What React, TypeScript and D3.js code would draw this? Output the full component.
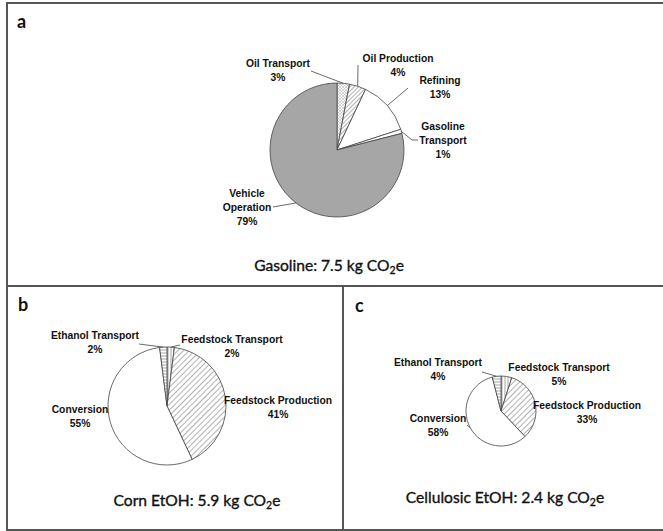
import { useEffect, useRef } from 'react';
import * as d3 from 'd3';

// panel a - gasoline
const gasLabels = ['Oil Transport', 'Oil Production', 'Refining', 'Gasoline Transport', 'Vehicle Operation'];
const gasValues = [3, 4, 13, 1, 79];
const gasFills = ['url(#dots)', 'url(#hatchDense)', '#ffffff', '#ffffff', '#a6a6a6'];

// panel b - corn ethanol
const cornLabels = ['Feedstock Transport', 'Feedstock Production', 'Conversion', 'Ethanol Transport'];
const cornValues = [2, 41, 55, 2];

// panel c - cellulosic ethanol
const cellLabels = ['Feedstock Transport', 'Feedstock Production', 'Conversion', 'Ethanol Transport'];
const cellValues = [5, 33, 58, 4];

const ethFills = ['url(#vlines)', 'url(#hatch)', '#ffffff', 'url(#hlines)'];

const titles = [
  { pre: 'Gasoline: 7.5 kg CO', post: 'e' },
  { pre: 'Corn EtOH: 5.9 kg CO', post: 'e' },
  { pre: 'Cellulosic EtOH: 2.4 kg CO', post: 'e' },
];

type LabelPos = { x: number; y: number; lines: string[]; leader?: [number, number][] };

export default function App() {
  const svgRef = useRef<SVGSVGElement | null>(null);

  useEffect(() => {
    if (!svgRef.current) return;
    const svg = d3.select(svgRef.current);
    svg.selectAll('*').remove();

    const defs = svg.append('defs');
    const mkPattern = (id: string, size: number, rot: number, draw: (p: any) => void) => {
      const p = defs
        .append('pattern')
        .attr('id', id)
        .attr('patternUnits', 'userSpaceOnUse')
        .attr('width', size)
        .attr('height', size)
        .attr('patternTransform', `rotate(${rot})`);
      p.append('rect').attr('width', size).attr('height', size).attr('fill', '#fff');
      draw(p);
    };
    mkPattern('hatch', 4, 45, (p) =>
      p.append('line').attr('x1', 0).attr('y1', 0).attr('x2', 0).attr('y2', 4).attr('stroke', '#555').attr('stroke-width', 0.9)
    );
    mkPattern('hatchDense', 3, 45, (p) =>
      p.append('line').attr('x1', 0).attr('y1', 0).attr('x2', 0).attr('y2', 3).attr('stroke', '#555').attr('stroke-width', 0.9)
    );
    mkPattern('dots', 3, 0, (p) => {
      p.append('line').attr('x1', 0).attr('y1', 0).attr('x2', 3).attr('y2', 3).attr('stroke', '#aaa').attr('stroke-width', 0.5);
      p.append('line').attr('x1', 3).attr('y1', 0).attr('x2', 0).attr('y2', 3).attr('stroke', '#aaa').attr('stroke-width', 0.5);
    });
    mkPattern('vlines', 3, 0, (p) =>
      p.append('line').attr('x1', 1).attr('y1', 0).attr('x2', 1).attr('y2', 3).attr('stroke', '#666').attr('stroke-width', 0.6)
    );
    mkPattern('hlines', 3, 0, (p) =>
      p.append('line').attr('x1', 0).attr('y1', 1).attr('x2', 3).attr('y2', 1).attr('stroke', '#666').attr('stroke-width', 0.6)
    );

    const labelFont = '"Liberation Sans", Arial, sans-serif';
    const titleFont = 'Lato, "Open Sans", sans-serif';

    // frame
    svg.append('rect').attr('x', 7).attr('y', 3).attr('width', 660).attr('height', 527)
      .attr('fill', 'none').attr('stroke', '#555').attr('stroke-width', 2);
    svg.append('line').attr('x1', 7).attr('x2', 663).attr('y1', 286).attr('y2', 286)
      .attr('stroke', '#555').attr('stroke-width', 2);
    svg.append('line').attr('x1', 343).attr('x2', 343).attr('y1', 286).attr('y2', 530)
      .attr('stroke', '#555').attr('stroke-width', 2);

    const drawPie = (
      cx: number, cy: number, r: number,
      labels: string[], values: number[], fills: string[],
      pos: LabelPos[]
    ) => {
      const g = svg.append('g').attr('transform', `translate(${cx},${cy})`);
      const pie = d3.pie<number>().sort(null).value((d) => d);
      const arcs = pie(values);
      const arc = d3.arc<d3.PieArcDatum<number>>().innerRadius(0).outerRadius(r);
      const edge = d3.arc<d3.PieArcDatum<number>>().innerRadius(r).outerRadius(r);
      g.selectAll('path.slice')
        .data(arcs)
        .enter()
        .append('path')
        .attr('class', 'slice')
        .attr('d', arc)
        .attr('fill', (_, i) => fills[i])
        .attr('stroke', '#444')
        .attr('stroke-width', 0.8)
        .append('title')
        .text((_, i) => labels[i]);

      arcs.forEach((a, i) => {
        const p = pos[i];
        if (p.leader) {
          const [ex, ey] = edge.centroid(a);
          const pts: [number, number][] = [[ex + cx, ey + cy], ...p.leader];
          svg.append('path')
            .attr('d', d3.line()(pts))
            .attr('fill', 'none')
            .attr('stroke', '#444')
            .attr('stroke-width', 0.8);
        }
        const lines = [...p.lines, `${values[i]}%`];
        const t = svg.append('text')
          .attr('x', p.x)
          .attr('y', p.y)
          .attr('text-anchor', 'middle')
          .style('font-family', labelFont)
          .style('font-weight', 'bold')
          .style('font-size', '10.3px')
          .attr('fill', '#111');
        lines.forEach((l, k) => {
          t.append('tspan').attr('x', p.x).attr('dy', k === 0 ? 0 : 14).text(l);
        });
      });
    };

    drawPie(337, 150, 67, gasLabels, gasValues, gasFills, [
      { x: 278, y: 67, lines: ['Oil Transport'], leader: [[311, 71]] },
      { x: 398, y: 62, lines: ['Oil Production'], leader: [[358, 65]] },
      { x: 440, y: 84, lines: ['Refining'], leader: [[408, 88]] },
      { x: 443, y: 130, lines: ['Gasoline', 'Transport'], leader: [[412, 140], [418, 140]] },
      { x: 247, y: 197, lines: ['Vehicle', 'Operation'], leader: [[273, 207]] },
    ]);

    drawPie(167, 406, 59, cornLabels, cornValues, ethFills, [
      { x: 232, y: 343, lines: ['Feedstock Transport'], leader: [[180, 345]] },
      { x: 278, y: 404, lines: ['Feedstock Production'] },
      { x: 80, y: 413, lines: ['Conversion'] },
      { x: 95, y: 339, lines: ['Ethanol Transport'], leader: [[139, 344]] },
    ]);

    drawPie(501, 411, 35, cellLabels, cellValues, ethFills, [
      { x: 559, y: 371, lines: ['Feedstock Transport'] },
      { x: 587, y: 409, lines: ['Feedstock Production'] },
      { x: 438, y: 422, lines: ['Conversion'], leader: [[467, 425]] },
      { x: 438, y: 366, lines: ['Ethanol Transport'], leader: [[482, 372]] },
    ]);

    // panel letters
    [['a', 17, 28], ['b', 18, 311], ['c', 355, 312]].forEach(([s, x, y]) => {
      svg.append('text').attr('x', x).attr('y', y).text(s as string)
        .style('font-family', titleFont).style('font-weight', 'bold').style('font-size', '18px').attr('fill', '#111');
    });

    // titles
    const titlePos = [[329, 271], [197, 506], [505, 503]];
    titles.forEach((t, i) => {
      const txt = svg.append('text')
        .attr('x', titlePos[i][0])
        .attr('y', titlePos[i][1])
        .attr('text-anchor', 'middle')
        .style('font-family', titleFont)
        .style('font-size', '15.6px')
        .attr('fill', '#111')
        .attr('stroke', '#111')
        .attr('stroke-width', 0.35);
      txt.append('tspan').text(t.pre);
      txt.append('tspan').attr('dy', 3).style('font-size', '10.5px').text('2');
      txt.append('tspan').attr('dy', -3).text(t.post);
    });
  }, []);

  return (
    <svg
      ref={svgRef}
      width={663}
      height={531}
      style={{ position: 'absolute', left: 0, top: 0, background: '#fff' }}
    />
  );
}
